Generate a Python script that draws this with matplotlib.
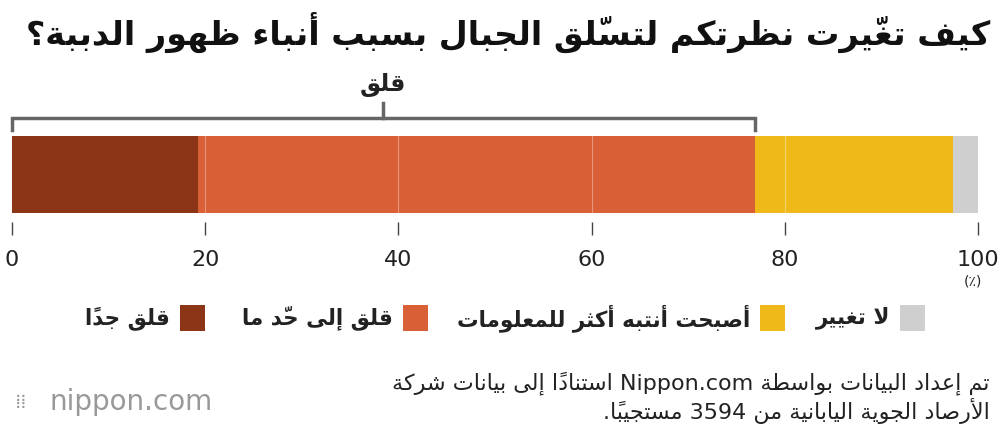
import matplotlib
matplotlib.use("Agg")
import matplotlib.pyplot as plt
from matplotlib.patches import Rectangle
import re

categories = ["قلق جداً", "قلق إلى حدّ ما", "أصبحت أنتبه أكثر للمعلومات", "لا تغيير"]
values = [19.3, 57.6, 20.5, 2.6]
colors = ["#8C3416", "#D95F36", "#EFB919", "#CFCFCF"]
ticks = [0, 20, 40, 60, 80, 100]
title = "كيف تغيّرت نظرتكم لتسلّق الجبال بسبب أنباء ظهور الدببة؟"
bracket_label = "قلق"
source1 = "تم إعداد البيانات بواسطة Nippon.com استناداً إلى بيانات شركة"
source2 = "الأرصاد الجوية اليابانية من 3594 مستجيباً."

# --- minimal Arabic shaping ---
FORMS = {'ء':(0xFE80,1),'آ':(0xFE81,2),'أ':(0xFE83,2),'ؤ':(0xFE85,2),'إ':(0xFE87,2),'ئ':(0xFE89,4),
 'ا':(0xFE8D,2),'ب':(0xFE8F,4),'ة':(0xFE93,2),'ت':(0xFE95,4),'ث':(0xFE99,4),'ج':(0xFE9D,4),
 'ح':(0xFEA1,4),'خ':(0xFEA5,4),'د':(0xFEA9,2),'ذ':(0xFEAB,2),'ر':(0xFEAD,2),'ز':(0xFEAF,2),
 'س':(0xFEB1,4),'ش':(0xFEB5,4),'ص':(0xFEB9,4),'ض':(0xFEBD,4),'ط':(0xFEC1,4),'ظ':(0xFEC5,4),
 'ع':(0xFEC9,4),'غ':(0xFECD,4),'ف':(0xFED1,4),'ق':(0xFED5,4),'ك':(0xFED9,4),'ل':(0xFEDD,4),
 'م':(0xFEE1,4),'ن':(0xFEE5,4),'ه':(0xFEE9,4),'و':(0xFEED,2),'ى':(0xFEEF,2),'ي':(0xFEF1,4)}
LAMALEF = {'آ':0xFEF5,'أ':0xFEF7,'إ':0xFEF9,'ا':0xFEFB}
MARKS = set(chr(c) for c in range(0x064B, 0x0653))

def shape(text):
    cl = []
    for ch in text:
        if ch in MARKS and cl:
            cl[-1][1].append(ch)
        else:
            cl.append([ch, []])
    merged = []
    i = 0
    while i < len(cl):
        if cl[i][0] == 'ل' and i + 1 < len(cl) and cl[i+1][0] in LAMALEF:
            merged.append(['LA' + cl[i+1][0], cl[i][1] + cl[i+1][1]])
            i += 2
        else:
            merged.append(cl[i]); i += 1
    def nforms(b):
        if b.startswith('LA'): return 2
        return FORMS[b][1] if b in FORMS else 0
    out = []
    for k, (b, m) in enumerate(merged):
        n = nforms(b)
        prev_joins = k > 0 and nforms(merged[k-1][0]) == 4
        next_joins = k + 1 < len(merged) and nforms(merged[k+1][0]) >= 2
        if n == 0:
            g = b
        elif b.startswith('LA'):
            g = chr(LAMALEF[b[2]] + (1 if prev_joins else 0))
        else:
            base = FORMS[b][0]
            if n == 1:
                g = chr(base)
            elif n == 2:
                g = chr(base + (1 if prev_joins else 0))
            else:
                if prev_joins and next_joins: g = chr(base + 3)
                elif prev_joins: g = chr(base + 1)
                elif next_joins: g = chr(base + 2)
                else: g = chr(base)
        out.append(g + ''.join(m))
    s = ''.join(out[::-1])
    s = re.sub(r'[A-Za-z0-9][A-Za-z0-9.]*[A-Za-z0-9]|[A-Za-z0-9]', lambda mo: mo.group(0)[::-1], s)
    return s

plt.rcParams['font.family'] = ['DejaVu Sans']
fig = plt.figure(figsize=(10, 4.32), dpi=100)
ax = fig.add_axes([0.012, 0.486, 0.966, 0.306])
ax.set_xlim(0, 100)
ax.set_ylim(0, 1)
left = 0
for v, c in zip(values, colors):
    ax.barh(0.359, v, left=left, height=0.582, color=c, linewidth=0)
    left += v
for t in ticks[1:-1]:
    ax.axvline(t, ymin=0.068, ymax=0.65, color='white', lw=0.8, alpha=0.35)
for s in ax.spines.values():
    s.set_visible(False)
ax.set_yticks([])
ax.set_xticks(ticks)
ax.set_xticklabels([str(t) for t in ticks], fontsize=16, color='#222222')
ax.tick_params(axis='x', length=9, width=1, color='#444444', pad=11)
ax.set_facecolor('none')
bend = values[0] + values[1]
ax.plot([0, 0, bend, bend], [0.697, 0.788, 0.788, 0.697], color='#666666', lw=2.5, clip_on=False, solid_joinstyle='miter')
ax.plot([bend/2, bend/2], [0.788, 0.9], color='#666666', lw=2.5, clip_on=False)
ax.text(bend/2, 1.04, shape(bracket_label), ha='center', va='center', fontsize=17, fontweight='bold', color='#222222', clip_on=False)
ax.text(98.5, -0.45, "(٪)", ha='left', va='center', fontsize=10, color='#222222', clip_on=False)

fig.text(0.99, 0.925, shape(title), ha='right', va='center', fontsize=24, fontweight='bold', color='#111111')

leg_y = 1 - 318/432
sq_right = [0.205, 0.428, 0.785, 0.925]
for cat, c, r in zip(categories, colors, sq_right):
    fig.patches.append(Rectangle((r - 0.025, leg_y - 0.03), 0.025, 0.06, transform=fig.transFigure, color=c, linewidth=0))
    fig.text(r - 0.035, leg_y, shape(cat), ha='right', va='center', fontsize=15.5, fontweight='bold', color='#222222')

fig.text(0.99, 1 - 383/432, shape(source1), ha='right', va='center', fontsize=16, color='#222222')
fig.text(0.99, 1 - 411/432, shape(source2), ha='right', va='center', fontsize=16, color='#222222')
fig.text(0.05, 1 - 402/432, "nippon.com", ha='left', va='center', fontsize=20, color='#999999')
fig.text(0.015, 1 - 402/432, "⁞⁞", ha='left', va='center', fontsize=14, color='#999999')

fig.savefig("out.png", dpi=100)
